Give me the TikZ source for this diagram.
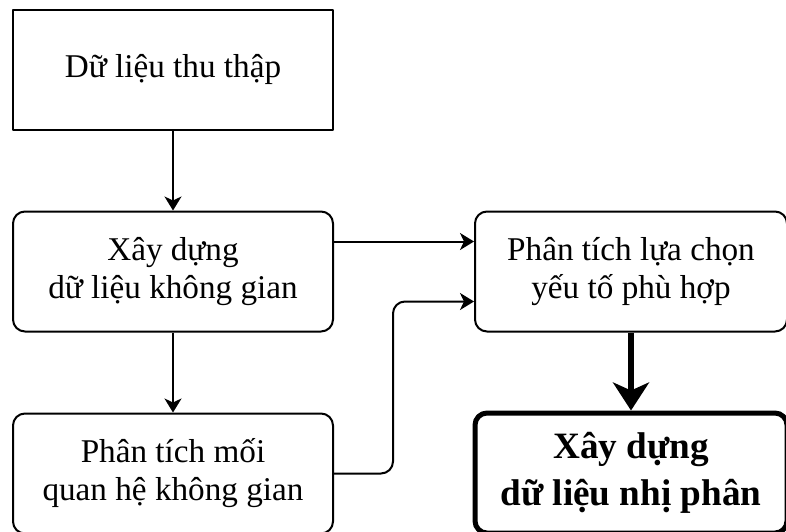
\documentclass[tikz,border=0pt]{standalone}
\usepackage{fontspec}
\setmainfont{Liberation Serif}
\usetikzlibrary{positioning,arrows.meta}
\begin{document}
\begin{tikzpicture}[>={Stealth[inset=2pt,length=7pt,width=8.5pt]},line join=round,line width=1pt,
	font=\fontsize{16.6}{19}\selectfont,
	box/.style={draw,align=center,minimum width=160pt,minimum height=60pt,inner sep=2pt},
	rbox/.style={box,rounded corners=6pt},
	rbox big/.style={rbox,minimum width=156pt,line width=2.5pt,font=\fontsize{18.6}{23.5}\selectfont\bfseries}]
	\useasboundingbox (0,0) rectangle (393pt,-265.5pt);
	\node[box] (thu) at (86.5pt,-34.75pt) {Dữ liệu thu thập};
	\node[rbox,below=40pt of thu] (kg) {Xây dựng\\dữ liệu không gian};
	\node[rbox,below=40pt of kg] (qh) {Phân tích mối\\quan hệ không gian};
	\node[rbox,minimum width=156pt,right=70pt of kg] (lc) {Phân tích lựa chọn\\yếu tố phù hợp};
	\node[rbox big,below=39pt of lc] (np) {Xây dựng\\dữ liệu nhị phân};
	\draw[->] (thu) -- (kg);
	\draw[->] (kg) -- (qh);
	\draw[->] ([yshift=15pt]kg.east) -- ([yshift=15pt]lc.west);
	\draw[->,rounded corners=6pt] (qh.east) -- ++(29.5pt,0) |- ([yshift=-15pt]lc.west);
	\draw[line width=3pt,-{Stealth[inset=4pt,length=14pt,width=18pt]}] (lc) -- (np);
\end{tikzpicture}
\end{document}
